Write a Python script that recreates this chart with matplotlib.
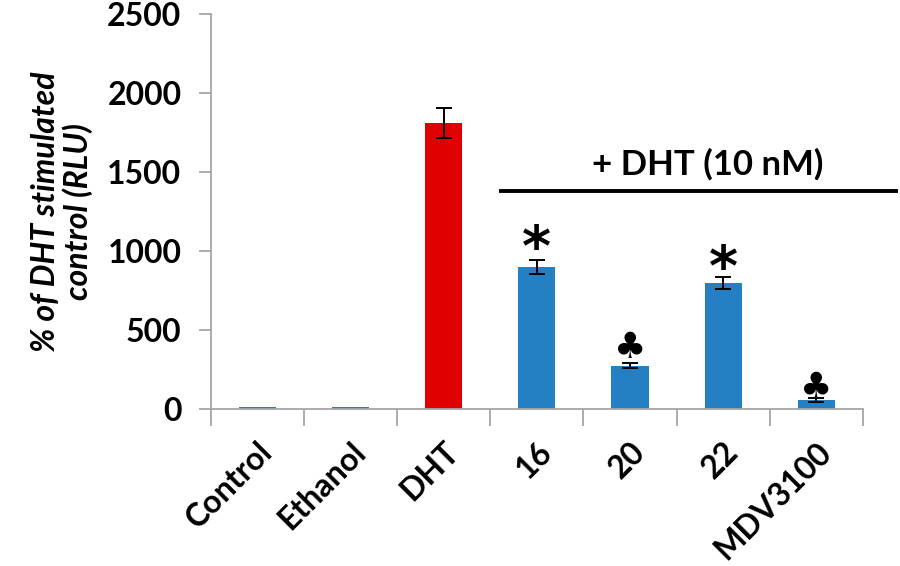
import matplotlib.pyplot as plt

plt.rcParams['font.family'] = ['Lato', 'DejaVu Sans']

categories = ["Control", "Ethanol", "DHT", "16", "20", "22", "MDV3100"]
values = [14, 14, 1810, 900, 275, 800, 58]
errors = [0, 0, 95, 42, 15, 38, 10]
colors = ["#2580C3", "#2580C3", "#E00000", "#2580C3", "#2580C3", "#2580C3", "#2580C3"]
marks = ["", "", "", "*", "\u2663", "*", "\u2663"]
mark_y = [0, 0, 0, 1010, 385, 880, 135]
y_ticks = [0, 500, 1000, 1500, 2000, 2500]

fig = plt.figure(figsize=(9, 5.66), dpi=100)
ax = fig.add_axes([0.234, 0.277, 0.725, 0.698])

x = list(range(len(categories)))
ax.bar(x, values, width=0.4, color=colors)
for i in x:
    if errors[i] > 0:
        ax.errorbar(i, values[i], yerr=errors[i], fmt="none", ecolor="black",
                    elinewidth=1.4, capsize=6, capthick=1.4)
    if marks[i] == "*":
        ax.text(i, mark_y[i], "*", ha="center", va="center", fontsize=40,
                fontweight="bold", family=["DejaVu Sans"])
    elif marks[i]:
        ax.text(i, mark_y[i], marks[i], ha="center", va="center", fontsize=26,
                family=["DejaVu Sans"])

ax.set_xlim(-0.5, 6.5)
ax.set_ylim(0, 2500)

# bracket for the DHT-treated groups
ax.plot([2.62, 6.85], [1380, 1380], color="black", lw=2.8, clip_on=False)
ax.text(4.83, 1550, "+ DHT (10 nM)", ha="center", va="center", fontsize=25,
        fontweight="bold")

for s in ["top", "right"]:
    ax.spines[s].set_visible(False)
for s in ["left", "bottom"]:
    ax.spines[s].set_color("#A6A6A6")
    ax.spines[s].set_linewidth(1.3)

ax.set_yticks(y_ticks)
ax.set_yticklabels([str(v) for v in y_ticks], fontsize=23, fontweight="bold")
ax.tick_params(axis="y", length=9, width=1.3, color="#A6A6A6", pad=12)

ax.set_xticks([i - 0.5 for i in range(len(categories) + 1)])
ax.set_xticklabels([])
ax.set_xticks(x, minor=True)
ax.set_xticklabels(categories, minor=True, rotation=45, ha="right",
                   rotation_mode="anchor", fontsize=23, fontweight="bold")
ax.tick_params(axis="x", which="major", length=12, width=1.3, color="#A6A6A6")
ax.tick_params(axis="x", which="minor", length=0, pad=20)

ax.set_ylabel("% of DHT stimulated\ncontrol (RLU)", fontsize=23,
              fontweight="bold", style="italic", labelpad=10, linespacing=1.1)

fig.savefig("out.png", dpi=100)
